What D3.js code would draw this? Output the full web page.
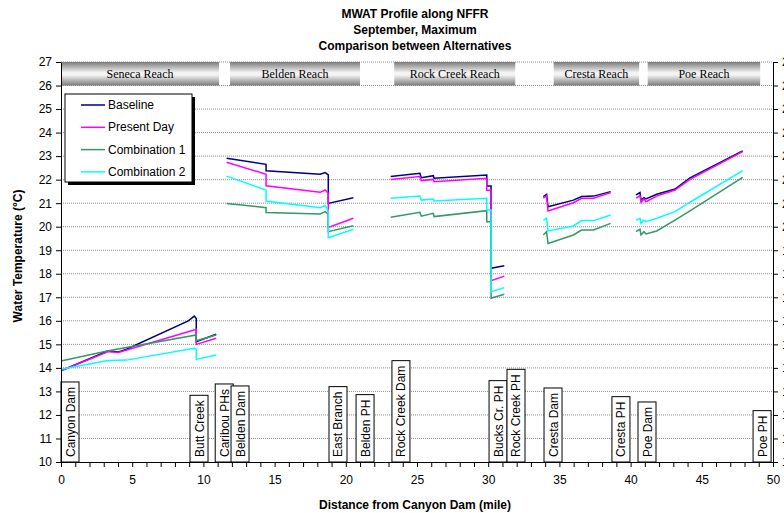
<!DOCTYPE html>
<html><head><meta charset="utf-8">
<script src="https://cdn.jsdelivr.net/npm/d3@7"></script>
<style>body{margin:0;background:#fff}svg{display:block;font-family:Arial,"Liberation Sans",sans-serif}</style>
</head><body>
<svg id="c" width="784" height="513"></svg>
<script>
const titleLines = ["MWAT Profile along NFFR", "September, Maximum", "Comparison between Alternatives"];
const xTicks = [0, 5, 10, 15, 20, 25, 30, 35, 40, 45, 50];
const yTicks = [10, 11, 12, 13, 14, 15, 16, 17, 18, 19, 20, 21, 22, 23, 24, 25, 26, 27];
const seriesNames = ["Baseline", "Present Day", "Combination 1", "Combination 2"];
const seriesColors = ["#000080", "#ff00ff", "#339966", "#00ffff"];

const reachNames = ["Seneca Reach", "Belden Reach", "Rock Creek Reach", "Cresta Reach", "Poe Reach"];
const reachStart = [0, 11.87, 23.4, 34.6, 41.2];
const reachEnd = [11.1, 21.0, 31.9, 40.6, 49.1];

const siteNames = ["Canyon Dam", "Butt Creek", "Caribou PHs", "Belden Dam", "East Branch", "Belden PH", "Rock Creek Dam", "Bucks Cr. PH", "Rock Creek PH", "Cresta Dam", "Cresta PH", "Poe Dam", "Poe PH"];
const siteMile = [0, 9.06, 10.83, 11.94, 18.82, 20.72, 23.24, 30.06, 31.32, 33.92, 38.69, 40.52, 48.6];

// each series: list of segments (one per reach), points [mile, temperature]
const baseline = [
  [[0,13.88],[3.32,14.73],[4.03,14.68],[4.6,14.79],[8.94,16.0],[9.36,16.2],[9.5,16.1],[9.5,15.11],[10.9,15.43]],
  [[11.63,22.91],[14.4,22.65],[14.4,22.38],[18.2,22.23],[18.55,22.3],[18.77,22.2],[18.77,20.99],[20.53,21.23]],
  [[23.15,22.13],[25.2,22.27],[25.3,22.08],[26.15,22.17],[26.2,22.06],[29.9,22.2],[29.9,21.73],[30.2,21.73],[30.2,18.23],[31.13,18.34]],
  [[33.87,21.28],[34.1,21.38],[34.2,20.85],[35.98,21.13],[36.56,21.28],[37.4,21.3],[38.6,21.49]],
  [[40.38,21.35],[40.66,21.45],[40.73,21.13],[40.94,21.23],[41.08,21.18],[41.83,21.38],[43.12,21.6],[44.17,22.08],[47.87,23.22]]
];
const presentDay = [
  [[0,13.88],[3.32,14.69],[4.03,14.65],[9.4,15.62],[9.5,15.64],[9.5,15.0],[10.9,15.26]],
  [[11.63,22.74],[14.4,22.23],[14.4,21.74],[18.2,21.46],[18.55,21.56],[18.77,21.42],[18.77,19.97],[20.53,20.36]],
  [[23.15,22.01],[25.2,22.13],[25.3,21.96],[26.15,22.01],[26.2,21.91],[29.9,22.06],[29.9,21.55],[30.2,21.55],[30.2,17.71],[31.13,17.9]],
  [[33.87,21.21],[34.1,21.32],[34.2,20.67],[35.98,21.02],[36.56,21.21],[37.4,21.21],[38.6,21.45]],
  [[40.38,21.21],[40.66,21.32],[40.73,21.04],[40.94,21.18],[41.08,21.06],[41.83,21.3],[43.12,21.56],[44.17,22.01],[47.87,23.19]]
];
const combination1 = [
  [[0,14.29],[3.32,14.73],[9.5,15.4],[9.5,15.15],[10.9,15.4]],
  [[11.63,20.99],[14.4,20.81],[14.4,20.6],[18.2,20.54],[18.55,20.64],[18.77,20.53],[18.77,19.79],[20.53,20.04]],
  [[23.15,20.4],[25.2,20.61],[25.3,20.45],[26.15,20.57],[26.2,20.43],[29.9,20.68],[29.9,20.21],[30.2,20.21],[30.2,16.96],[31.13,17.13]],
  [[33.87,19.65],[34.1,19.79],[34.2,19.29],[35.98,19.65],[36.56,19.86],[37.4,19.86],[38.6,20.14]],
  [[40.38,19.79],[40.66,19.89],[40.73,19.65],[40.94,19.79],[41.08,19.69],[41.83,19.82],[43.12,20.28],[44.17,20.67],[47.87,22.1]]
];
const combination2 = [
  [[0,13.94],[3.32,14.31],[4.6,14.33],[9.36,14.83],[9.5,14.8],[9.5,14.36],[10.9,14.55]],
  [[11.63,22.15],[14.4,21.56],[14.4,21.09],[18.2,20.81],[18.55,20.9],[18.77,20.67],[18.77,19.53],[20.53,19.89]],
  [[23.15,21.21],[25.2,21.3],[25.3,21.13],[26.15,21.18],[26.2,21.09],[29.9,21.21],[29.9,20.71],[30.2,20.71],[30.2,17.24],[31.13,17.41]],
  [[33.87,20.28],[34.1,20.36],[34.2,19.82],[35.98,20.03],[36.56,20.26],[37.4,20.26],[38.6,20.5]],
  [[40.38,20.28],[40.66,20.36],[40.73,20.14],[40.94,20.28],[41.08,20.21],[41.83,20.36],[43.12,20.64],[44.17,21.04],[47.87,22.38]]
];
const allSeries = [baseline, presentDay, combination1, combination2];

const svg = d3.select("#c");
const x = d3.scaleLinear().domain([0, 50]).range([61, 773]);
const y = d3.scaleLinear().domain([10, 27]).range([462, 62]);

// title
svg.append("g").selectAll("text").data(titleLines).join("text")
  .attr("x", 415).attr("y", (d, i) => 18 + i * 16)
  .attr("text-anchor", "middle").attr("font-size", 12).attr("font-weight", "bold").text(d => d);

// gridlines
svg.append("g").selectAll("line").data(yTicks.filter(t => t > 10)).join("line")
  .attr("x1", x(0)).attr("x2", x(50)).attr("y1", d => y(d)).attr("y2", d => y(d))
  .attr("stroke", "#8c8c8c").attr("stroke-width", 1).attr("stroke-dasharray", "1,1");

// reach header bars
const defs = svg.append("defs");
const grad = defs.append("linearGradient").attr("id", "rg").attr("x1", 0).attr("x2", 0).attr("y1", 0).attr("y2", 1);
[["0%", "#7a7a7a"], ["45%", "#f4f4f4"], ["55%", "#f4f4f4"], ["100%", "#7a7a7a"]].forEach(s =>
  grad.append("stop").attr("offset", s[0]).attr("stop-color", s[1]));
const reaches = svg.append("g");
reaches.selectAll("rect").data(reachNames).join("rect")
  .attr("x", (d, i) => x(reachStart[i])).attr("width", (d, i) => x(reachEnd[i]) - x(reachStart[i]))
  .attr("y", y(27)).attr("height", y(26) - y(27)).attr("fill", "url(#rg)");
reaches.selectAll("text").data(reachNames).join("text")
  .attr("x", (d, i) => (x(reachStart[i]) + x(reachEnd[i])) / 2).attr("y", (y(27) + y(26)) / 2 + 4)
  .attr("text-anchor", "middle").attr("font-family", "'Liberation Serif','Times New Roman',serif")
  .attr("font-size", 12).text(d => d);

// site labels
const sites = svg.append("g");
siteNames.forEach((name, i) => {
  const g = sites.append("g");
  const rect = g.append("rect");
  const t = g.append("text").attr("font-size", 12).text(name);
  const len = t.node().getComputedTextLength();
  const bx = x(siteMile[i]), bw = 18, bh = len + 10;
  rect.attr("x", bx).attr("y", y(10) - bh).attr("width", bw).attr("height", bh)
    .attr("fill", "#fff").attr("stroke", "#000").attr("stroke-width", 1);
  t.attr("transform", `translate(${bx + bw / 2 + 4.5},${y(10) - 5}) rotate(-90)`);
});

// lines
const line = d3.line().x(d => x(d[0])).y(d => y(d[1]));
allSeries.forEach((segs, si) => {
  svg.append("g").selectAll("path").data(segs).join("path")
    .attr("d", line).attr("fill", "none").attr("stroke", seriesColors[si]).attr("stroke-width", 1.5);
});

// axes
const fmt = d => String(d);
const la = svg.append("g").attr("transform", `translate(${x(0)},0)`)
  .call(d3.axisLeft(y).tickValues(yTicks).tickSize(5).tickSizeOuter(0).tickPadding(4).tickFormat(fmt));
const ra = svg.append("g").attr("transform", `translate(${x(50)},0)`)
  .call(d3.axisRight(y).tickValues(yTicks).tickSize(5).tickSizeOuter(0).tickPadding(4).tickFormat(fmt));
const ba = svg.append("g").attr("transform", `translate(0,${y(10)})`)
  .call(d3.axisBottom(x).tickValues(d3.range(0, 51, 1)).tickSize(5).tickSizeOuter(0).tickPadding(8)
    .tickFormat(d => xTicks.includes(d) ? String(d) : ""));
[la, ra, ba].forEach(a => {
  a.selectAll("text").attr("font-size", 12).attr("font-family", "Arial,'Liberation Sans',sans-serif").attr("fill", "#000");
  a.selectAll("line,path").attr("stroke", "#000");
});

// axis titles
svg.append("text").attr("x", 415).attr("y", 509).attr("text-anchor", "middle")
  .attr("font-size", 12).attr("font-weight", "bold").text("Distance from Canyon Dam (mile)");
svg.append("text").attr("transform", `translate(22,${(y(10) + y(27)) / 2 - 6}) rotate(-90)`)
  .attr("text-anchor", "middle").attr("font-size", 12).attr("font-weight", "bold").text("Water Temperature (°C)");

// legend
const lg = svg.append("g").attr("transform", "translate(65,94)");
lg.append("rect").attr("x", 3).attr("y", 3).attr("width", 127).attr("height", 88).attr("fill", "#000");
lg.append("rect").attr("x", 0).attr("y", 0).attr("width", 127).attr("height", 88).attr("fill", "#fff").attr("stroke", "#000").attr("stroke-width", 1);
seriesNames.forEach((n, i) => {
  const yy = 11 + i * 22.3;
  lg.append("line").attr("x1", 16).attr("x2", 40).attr("y1", yy).attr("y2", yy)
    .attr("stroke", seriesColors[i]).attr("stroke-width", 1.5);
  lg.append("text").attr("x", 43).attr("y", yy + 4).attr("font-size", 12).text(n);
});
</script>
</body></html>
